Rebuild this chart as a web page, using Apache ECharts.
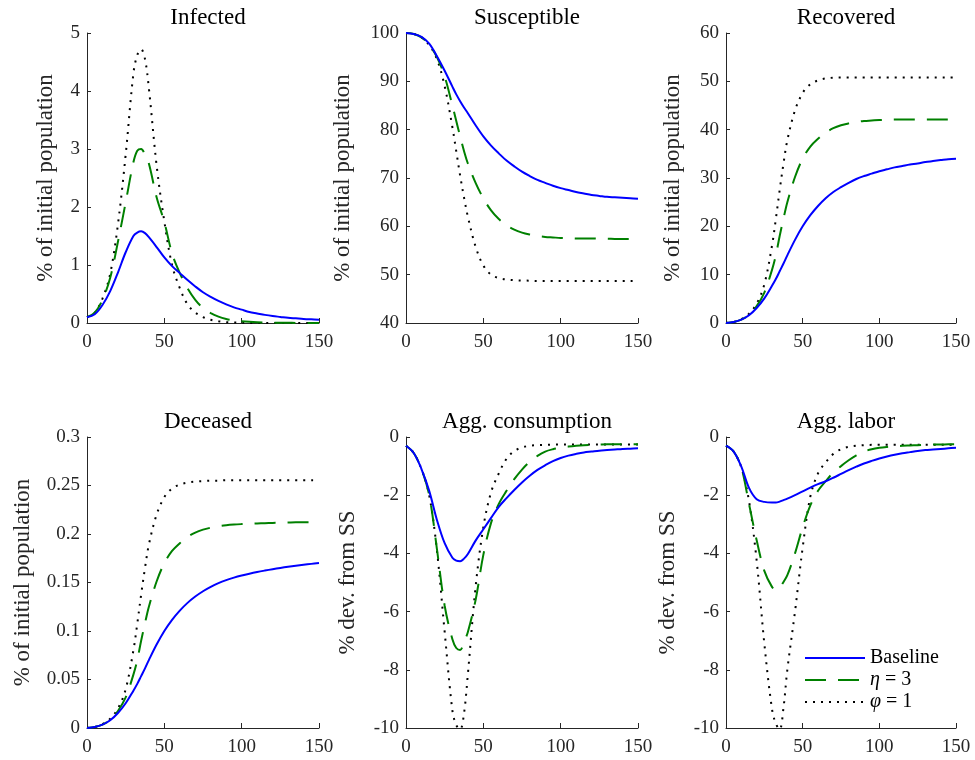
<!DOCTYPE html>
<html>
<head>
<meta charset="utf-8">
<script src="https://cdn.jsdelivr.net/npm/echarts@6/dist/echarts.min.js"></script>
<style>
html,body{margin:0;padding:0;background:#fff;}
#chart{width:975px;height:760px;}
</style>
</head>
<body>
<div id="chart"></div>
<script>
// ---- data (days since start) ----
const days = [0,5,10,15,20,25,30,32.5,35,37.5,40,45,50,55,60,65,70,75,80,85,90,95,100,105,110,115,120,125,130,135,140,145,150];

const seriesNames = ['Baseline', 'η = 3', 'φ = 1'];
const panelTitles = ['Infected', 'Susceptible', 'Recovered', 'Deceased', 'Agg. consumption', 'Agg. labor'];
const yAxisNames = ['% of initial population', '% of initial population', '% of initial population', '% of initial population', '% dev. from SS', '% dev. from SS'];
const xTicks = [0, 50, 100, 150];

const infectedBase = [0.10,0.15,0.31,0.55,0.87,1.22,1.50,1.56,1.58,1.55,1.48,1.31,1.13,0.98,0.86,0.74,0.63,0.53,0.45,0.38,0.32,0.27,0.23,0.19,0.165,0.14,0.12,0.105,0.09,0.08,0.07,0.063,0.057];
const infectedEta  = [0.10,0.18,0.40,0.78,1.40,2.08,2.77,2.97,3.00,2.90,2.75,2.17,1.74,1.20,0.86,0.60,0.40,0.26,0.17,0.11,0.07,0.045,0.03,0.02,0.013,0.009,0.006,0.004,0.003,0.002,0.002,0.001,0.001];
const infectedPhi  = [0.10,0.18,0.42,0.85,1.70,2.90,4.30,4.62,4.72,4.55,4.05,2.72,1.75,1.00,0.60,0.32,0.18,0.10,0.055,0.03,0.015,0.008,0.004,0.002,0.001,0,0,0,0,0,0,0,0];

const susBase = [100,99.8,99.2,97.8,95.2,92.2,88.9,87.3,85.9,84.6,83.4,80.9,78.6,76.7,75.1,73.6,72.4,71.3,70.4,69.6,69.0,68.4,67.9,67.5,67.1,66.8,66.5,66.3,66.1,66.0,65.9,65.8,65.7];
const susEta  = [100,99.8,99.1,97.6,95.0,91.0,85.0,81.8,78.6,75.6,73.0,69.0,65.8,63.3,61.5,60.2,59.3,58.7,58.3,58.0,57.8,57.7,57.6,57.55,57.5,57.5,57.5,57.45,57.45,57.4,57.4,57.4,57.4];
const susPhi  = [100,99.8,99.1,97.5,94.6,89.0,80.5,75.5,70.5,66.0,62.0,55.8,51.9,50.0,49.3,49.0,48.85,48.8,48.75,48.7,48.7,48.7,48.7,48.7,48.7,48.7,48.7,48.7,48.7,48.7,48.7,48.7,48.7];

const recBase = [0,0.2,0.7,1.6,3.1,5.1,7.7,9.1,10.7,12.3,14.0,17.2,20.0,22.3,24.2,25.8,27.1,28.1,29.0,29.8,30.4,30.9,31.4,31.8,32.2,32.5,32.8,33.0,33.3,33.5,33.7,33.9,34.0];
const recEta  = [0,0.2,0.7,1.7,3.5,6.3,11.0,14.0,18.0,21.6,25.0,30.2,34.0,36.5,38.1,39.4,40.3,40.9,41.3,41.6,41.8,41.9,42.0,42.05,42.1,42.1,42.1,42.1,42.1,42.1,42.1,42.1,42.1];
const recPhi  = [0,0.2,0.8,1.9,4.0,8.0,16.0,21.5,27.5,33.0,37.8,44.0,47.6,49.4,50.2,50.6,50.75,50.8,50.8,50.8,50.8,50.8,50.8,50.8,50.8,50.8,50.8,50.8,50.8,50.8,50.8,50.8,50.8];

const decBase = [0,0.001,0.0035,0.008,0.0155,0.0255,0.0385,0.0455,0.0535,0.0615,0.07,0.086,0.1,0.1115,0.121,0.129,0.1355,0.141,0.1455,0.1493,0.1524,0.155,0.1572,0.1591,0.1608,0.1623,0.1637,0.165,0.1662,0.1673,0.1683,0.1692,0.17];
const decEta  = [0,0.001,0.0035,0.0085,0.0175,0.0315,0.055,0.07,0.09,0.108,0.125,0.151,0.17,0.1825,0.1905,0.197,0.2015,0.2045,0.2065,0.208,0.209,0.2097,0.2102,0.2106,0.2109,0.2112,0.2114,0.2116,0.2118,0.212,0.212,0.212,0.212];
const decPhi  = [0,0.001,0.004,0.0095,0.02,0.04,0.08,0.1075,0.1375,0.165,0.189,0.22,0.238,0.247,0.251,0.253,0.254,0.2545,0.255,0.255,0.2555,0.2555,0.2555,0.2555,0.2555,0.2555,0.2555,0.2555,0.2555,0.2555,0.2555,0.2555,0.2555];

const consBase = [-0.3,-0.55,-1.1,-1.85,-2.85,-3.65,-4.15,-4.25,-4.27,-4.18,-4.02,-3.56,-3.17,-2.78,-2.4,-2.1,-1.82,-1.56,-1.33,-1.13,-0.97,-0.83,-0.72,-0.64,-0.58,-0.53,-0.5,-0.47,-0.45,-0.43,-0.41,-0.4,-0.39];
const consEta  = [-0.3,-0.55,-1.1,-2.0,-3.85,-5.8,-6.95,-7.25,-7.32,-7.05,-6.7,-5.6,-4.05,-2.95,-2.3,-1.85,-1.45,-1.12,-0.85,-0.65,-0.5,-0.42,-0.37,-0.33,-0.3,-0.28,-0.27,-0.26,-0.25,-0.25,-0.25,-0.25,-0.25];
const consPhi  = [-0.3,-0.55,-1.1,-2.0,-3.9,-6.7,-9.4,-9.9,-10.05,-9.5,-8.15,-5.15,-3.1,-1.9,-1.25,-0.75,-0.48,-0.36,-0.3,-0.28,-0.27,-0.26,-0.26,-0.26,-0.26,-0.26,-0.26,-0.26,-0.26,-0.26,-0.26,-0.26,-0.26];

const labBase = [-0.3,-0.5,-1.02,-1.75,-2.14,-2.23,-2.25,-2.25,-2.22,-2.17,-2.12,-2.0,-1.87,-1.74,-1.62,-1.52,-1.4,-1.27,-1.14,-1.02,-0.91,-0.82,-0.74,-0.67,-0.61,-0.56,-0.52,-0.48,-0.45,-0.43,-0.41,-0.39,-0.37];
const labEta  = [-0.3,-0.5,-1.05,-2.3,-3.55,-4.6,-5.15,-5.25,-5.18,-4.98,-4.75,-4.0,-3.1,-2.35,-1.85,-1.52,-1.22,-1.0,-0.8,-0.63,-0.5,-0.42,-0.37,-0.34,-0.32,-0.3,-0.29,-0.28,-0.27,-0.26,-0.26,-0.25,-0.25];
const labPhi  = [-0.3,-0.5,-1.05,-2.2,-4.25,-7.1,-9.35,-9.85,-10.05,-9.3,-8.0,-6.0,-3.8,-2.05,-1.25,-0.87,-0.58,-0.42,-0.34,-0.3,-0.28,-0.27,-0.27,-0.27,-0.27,-0.27,-0.27,-0.27,-0.27,-0.27,-0.27,-0.27,-0.27];

const yMin = [0, 40, 0, 0, -10, -10];
const yMax = [5, 100, 60, 0.3, 0, 0];
const yStep = [1, 10, 10, 0.05, 2, 2];

const panelData = [
  [infectedBase, infectedEta, infectedPhi],
  [susBase, susEta, susPhi],
  [recBase, recEta, recPhi],
  [decBase, decEta, decPhi],
  [consBase, consEta, consPhi],
  [labBase, labEta, labPhi]
];

// ---- layout / style ----
const FONT = 'Liberation Serif';
const TXT = '#262626';
const gridBoxes = [
  {left: 87, top: 33, width: 232, height: 290},
  {left: 406, top: 33, width: 232, height: 290},
  {left: 726, top: 33, width: 230, height: 290},
  {left: 87, top: 437, width: 232, height: 291},
  {left: 406, top: 437, width: 232, height: 291},
  {left: 726, top: 437, width: 230, height: 291}
];
const nameGaps = [30, 52, 42, 53, 47, 47];
const lineStyles = [
  {color: '#0000ff', width: 2, type: 'solid'},
  {color: '#008000', width: 2, type: [21, 12]},
  {color: '#000000', width: 2, type: [2, 6]}
];

const grids = [], xAxes = [], yAxes = [], titles = [], series = [];
gridBoxes.forEach((g, i) => {
  grids.push(Object.assign({containLabel: false}, g));
  titles.push({
    text: panelTitles[i],
    left: g.left + g.width / 2,
    top: g.top - 32,
    textAlign: 'center',
    textStyle: {fontFamily: FONT, fontSize: 23, fontWeight: 'normal', color: '#000'}
  });
  xAxes.push({
    type: 'value', gridIndex: i, min: 0, max: 150, interval: 50,
    axisLine: {show: true, onZero: false, lineStyle: {color: TXT, width: 1}},
    axisTick: {show: true, inside: true, length: 5, lineStyle: {color: TXT}},
    axisLabel: {fontFamily: FONT, fontSize: 19, color: TXT, margin: 10,
      customValues: xTicks},
    splitLine: {show: false}
  });
  yAxes.push({
    type: 'value', gridIndex: i, min: yMin[i], max: yMax[i], interval: yStep[i],
    name: yAxisNames[i], nameLocation: 'middle', nameGap: nameGaps[i],
    nameTextStyle: {fontFamily: FONT, fontSize: 23, color: TXT},
    axisLine: {show: true, onZero: false, lineStyle: {color: TXT, width: 1}},
    axisTick: {show: true, inside: true, length: 4, lineStyle: {color: TXT}},
    axisLabel: {fontFamily: FONT, fontSize: 19, color: TXT, margin: 7},
    splitLine: {show: false}
  });
  panelData[i].forEach((arr, s) => {
    series.push({
      name: seriesNames[s], type: 'line', xAxisIndex: i, yAxisIndex: i,
      data: days.map((d, k) => [d, arr[k]]),
      symbol: 'none', smooth: 0.35, clip: true,
      lineStyle: lineStyles[s], itemStyle: {color: lineStyles[s].color},
      z: 3 - s
    });
  });
});

const chart = echarts.init(document.getElementById('chart'), null, {renderer: 'canvas'});
chart.setOption({
  animation: false,
  backgroundColor: '#fff',
  title: titles,
  grid: grids,
  xAxis: xAxes,
  yAxis: yAxes,
  legend: {
    data: seriesNames, orient: 'vertical', left: 804, top: 648,
    itemWidth: 60, itemHeight: 12, itemGap: 2, padding: 0,
    selectedMode: false,
    itemStyle: {opacity: 0},
    formatter: function (n) {
      if (n === 'η = 3') return '{i|η} = 3';
      if (n === 'φ = 1') return '{i|φ} = 1';
      return n;
    },
    textStyle: {fontFamily: FONT, fontSize: 20, color: '#000',
      rich: {i: {fontFamily: FONT, fontSize: 20, fontStyle: 'italic', color: '#000'}}}
  },
  series: series
});
</script>
</body>
</html>
